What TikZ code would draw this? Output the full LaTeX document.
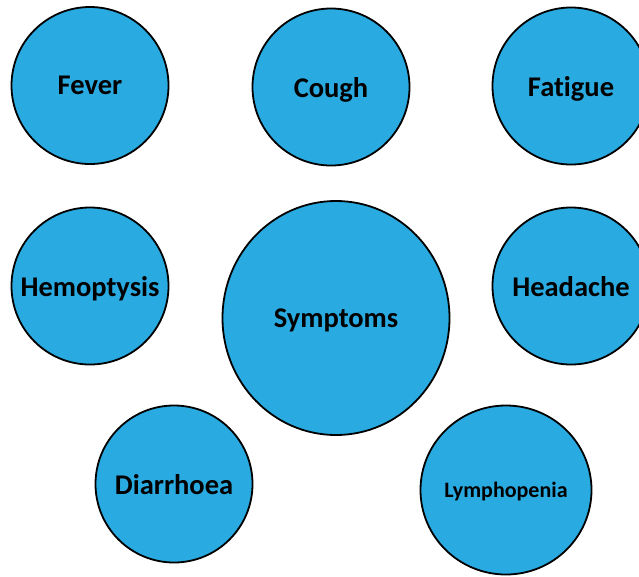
\documentclass[tikz,border=0pt]{standalone}
\usepackage{fontspec}
\setmainfont{Carlito}[Ligatures=NoCommon]
\usepackage{tikz}
\usetikzlibrary{shapes.geometric, positioning}
\definecolor{sympblue}{RGB}{41,171,226}

\begin{document}
\begin{tikzpicture}[x=1pt, y=-1pt,
    bubble/.style={draw, ellipse, fill=sympblue, line width=1.8pt, inner sep=0pt, minimum width=157pt, minimum height=157pt},
    bubtxt/.style={inner sep=0pt, text depth=0pt, font=\bfseries\fontsize{28.5}{34}\selectfont}]
    \useasboundingbox (0,0) rectangle (639,576);
    \clip (0,0) rectangle (639,576);

    % top row
    \node [bubble] (fever) at (90,85.5) {};
    \node [bubtxt] (fevertxt) at (fever) {Fever};
    \node [bubble] (cough) at (331,87) {};
    \node [bubtxt] (coughtxt) at (cough) {Cough};
    \node [bubble] (fatigue) at (571,86) {};
    \node [bubtxt] (fatiguetxt) at (fatigue) {Fatigue};

    % middle row
    \node [bubble] (hemo) at (90,286) {};
    \node [bubtxt] (hemotxt) at (hemo) {Hemoptysis};
    \node [bubble, minimum width=227pt, minimum height=234pt] (symp) at (336,318) {};
    \node [bubtxt] (symptxt) at (symp) {Symptoms};
    \node [bubble] (head) at (571,286) {};
    \node [bubtxt] (headtxt) at (head) {Headache};

    % bottom row
    \node [bubble] (diarr) at (174,484) {};
    \node [bubtxt] (diarrtxt) at (diarr) {Diarrhoea};
    \node [bubble, minimum width=171pt, minimum height=169pt] (lympho) at (506,490) {};
    \node [bubtxt, font=\bfseries\fontsize{22}{26}\selectfont] (lymphotxt) at (lympho) {Lymphopenia};
\end{tikzpicture}
\end{document}
